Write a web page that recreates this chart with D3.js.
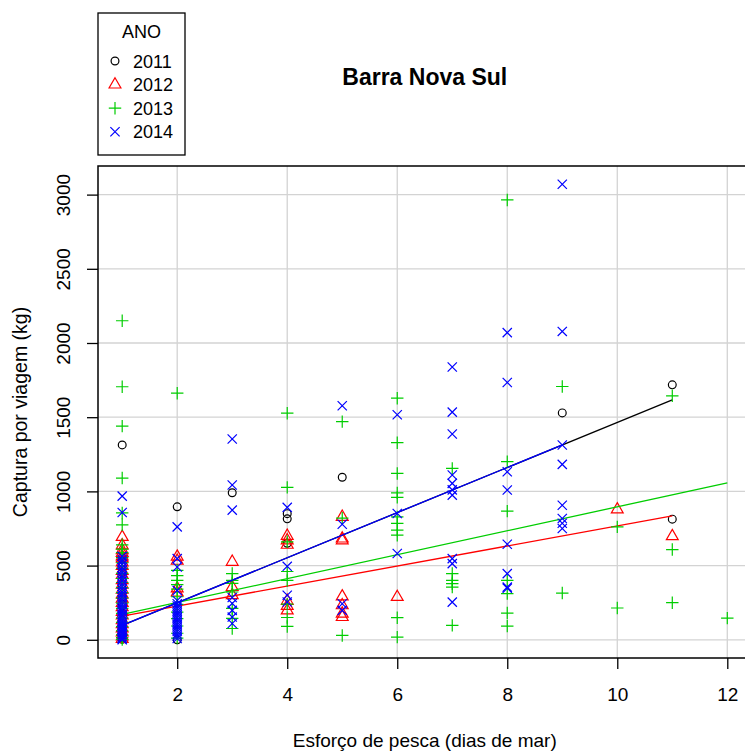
<!DOCTYPE html>
<html>
<head>
<meta charset="utf-8">
<script src="https://cdn.jsdelivr.net/npm/d3@7"></script>
<style>
body { margin: 0; background: #fff; }
svg { display: block; font-family: "Liberation Sans", Arial, Helvetica, sans-serif; }
</style>
</head>
<body>
<div id="chart"></div>
<script>
// pontos por ano: [dias de mar, [captura kg, ...]]
var pontos2011 = [
  [1, [1313, 455, 372, 290, 236, 180, 122, 84, 51, 28, 12, 3]],
  [2, [896, 0]],
  [3, [991]],
  [4, [850, 815, 650]],
  [5, [1095]],
  [9, [1529]],
  [11, [1718, 813]]
];
var pontos2012 = [
  [1, [693, 636, 604, 585, 562, 548, 521, 498, 463, 437, 402, 371, 338, 305, 276, 248, 219, 187, 163, 131, 104, 77, 49, 22, 6]],
  [2, [560, 532, 346, 318]],
  [3, [525, 355, 300]],
  [4, [700, 670, 640, 262, 228, 197]],
  [5, [828, 682, 670, 292, 232, 176, 153]],
  [6, [288]],
  [10, [878]],
  [11, [698]]
];
var pontos2013 = [
  [1, [2150, 1705, 1440, 1090, 855, 775, 640, 611, 587, 553, 519, 482, 447, 413, 386, 352, 318, 281, 247, 212, 178, 146, 117, 88, 61, 34, 14, 2]],
  [2, [1662, 468, 433, 400, 372, 341, 290, 238, 186, 142, 93, 44, 11]],
  [3, [446, 400, 380, 322, 211, 144, 76]],
  [4, [1527, 1027, 660, 460, 400, 240, 150, 90]],
  [5, [1470, 820, 29]],
  [6, [1628, 1328, 1121, 990, 960, 828, 784, 739, 705, 149, 18]],
  [7, [1155, 446, 400, 378, 355, 97]],
  [8, [2964, 1200, 867, 400, 311, 180, 92]],
  [9, [1707, 315]],
  [10, [761, 214]],
  [11, [1644, 608, 250]],
  [12, [146]]
];
var pontos2014 = [
  [1, [968, 858, 562, 541, 527, 509, 486, 468, 452, 431, 415, 397, 376, 359, 342, 321, 304, 287, 268, 251, 236, 219, 203, 188, 171, 158, 142, 127, 113, 99, 86, 72, 61, 48, 37, 25, 14, 6, 0]],
  [2, [761, 547, 490, 333, 265, 243, 228, 212, 196, 181, 167, 149, 134, 118, 102, 87, 71, 56, 39, 24, 9]],
  [3, [1353, 1043, 874, 285, 245, 198, 153, 110]],
  [4, [892, 495, 300, 255]],
  [5, [1577, 779, 243, 198]],
  [6, [1516, 851, 581]],
  [7, [1838, 1534, 1387, 1110, 1054, 1010, 975, 547, 513, 254]],
  [8, [2070, 1734, 1132, 1009, 644, 446, 355, 347]],
  [9, [3070, 2078, 1313, 1182, 907, 817, 785, 750]]
];

// retas ajustadas: [intercepto, declive, x inicial, x final]
var reta2011 = [-55, 152, 1, 11];
var reta2012 = [92, 67.5, 1, 11];
var reta2013 = [90, 80.6, 1, 12];
var reta2014 = [-55, 152, 1, 9];

var anos = ["2011", "2012", "2013", "2014"];
var cores = ["#000000", "#ff0000", "#00cd00", "#0000ff"];
var simbolos = ["circle", "triangle", "plus", "cross"];
var xTicks = [2, 4, 6, 8, 10, 12];
var yTicks = [0, 500, 1000, 1500, 2000, 2500, 3000];

function flat(grupos)
{
  let out = [];
  grupos.forEach(function(g) { g[1].forEach(function(v) { out.push([g[0], v]); }); });
  return out;
}

var series = [pontos2011, pontos2012, pontos2013, pontos2014].map(flat);
var retas = [reta2011, reta2012, reta2013, reta2014];

function add_svg(wrapper)
{
  return d3.select(wrapper).append("svg").attr("width", 745).attr("height", 752);
}

// simbolos tipo R (pch 1, 2, 3, 4)
function simbolo(tipo)
{
  let r = 4.4;
  if (tipo == "triangle") {
    let a = 1.555 * r, b = 1.347 * r, c = 0.778 * r;
    return "M0," + (-a) + "L" + b + "," + c + "L" + (-b) + "," + c + "Z";
  }
  if (tipo == "plus") {
    let p = 1.414 * r;
    return "M" + (-p) + ",0H" + p + "M0," + (-p) + "V" + p;
  }
  let q = 1.05 * r;
  return "M" + (-q) + "," + (-q) + "L" + q + "," + q + "M" + (-q) + "," + q + "L" + q + "," + (-q);
}

function draw_marker(g, tipo, cor, px, py)
{
  if (tipo == "circle")
    g.append("circle").attr("cx", px).attr("cy", py).attr("r", 3.9)
      .attr("fill", "none").attr("stroke", cor).attr("stroke-width", 1.2);
  else
    g.append("path").attr("d", simbolo(tipo)).attr("transform", "translate(" + px + "," + py + ")")
      .attr("fill", "none").attr("stroke", cor).attr("stroke-width", 1.2);
}

function draw_plot(wrapper)
{
  let svg = add_svg(wrapper);
  let left = 98, right = 751.5, top = 166, bottom = 658;

  let all = [].concat.apply([], series);
  let xr = d3.extent(all, function(d) { return d[0]; });
  let yr = d3.extent(all, function(d) { return d[1]; });
  let xp = (xr[1] - xr[0]) * 0.04, yp = (yr[1] - yr[0]) * 0.04;

  let x = d3.scaleLinear().domain([xr[0] - xp, xr[1] + xp]).range([left, right]);
  let y = d3.scaleLinear().domain([yr[0] - yp, yr[1] + yp]).range([bottom, top]);

  // grelha
  let grid = svg.append("g").attr("stroke", "#d3d3d3").attr("stroke-width", 1.3);
  grid.selectAll(".gx").data(xTicks).enter().append("line")
    .attr("x1", function(d) { return x(d); }).attr("x2", function(d) { return x(d); })
    .attr("y1", top).attr("y2", bottom);
  grid.selectAll(".gy").data(yTicks).enter().append("line")
    .attr("y1", function(d) { return y(d); }).attr("y2", function(d) { return y(d); })
    .attr("x1", left).attr("x2", right);

  // pontos e retas por ano
  let plot = svg.append("g");
  series.forEach(function(pts, i) {
    let r = retas[i];
    plot.append("line")
      .attr("x1", x(r[2])).attr("y1", y(r[0] + r[1] * r[2]))
      .attr("x2", x(r[3])).attr("y2", y(r[0] + r[1] * r[3]))
      .attr("stroke", cores[i]).attr("stroke-width", 1.3);
    pts.forEach(function(d) { draw_marker(plot, simbolos[i], cores[i], x(d[0]), y(d[1])); });
  });

  // eixos
  let xAxis = d3.axisBottom(x).tickValues(xTicks).tickSize(11).tickPadding(19).tickFormat(d3.format("d"));
  let gx = svg.append("g").attr("transform", "translate(0," + bottom + ")").call(xAxis);
  gx.select(".domain").remove();
  gx.selectAll("line").attr("stroke-width", 1.3);
  gx.selectAll("text").attr("font-size", 19).attr("fill", "#000").attr("font-family", null);

  let yAxis = d3.axisLeft(y).tickValues(yTicks).tickSize(11).tickFormat(d3.format("d"));
  let gy = svg.append("g").attr("transform", "translate(" + left + ",0)").call(yAxis);
  gy.select(".domain").remove();
  gy.selectAll("line").attr("stroke-width", 1.3);
  gy.selectAll("text").attr("font-size", 19).attr("fill", "#000").attr("font-family", null)
    .attr("x", null).attr("dy", null).attr("text-anchor", "middle")
    .attr("transform", "translate(-28,0) rotate(-90)");

  svg.append("rect").attr("x", left).attr("y", top).attr("width", right - left).attr("height", bottom - top)
    .attr("fill", "none").attr("stroke", "#000").attr("stroke-width", 1.5);

  // titulos
  svg.append("text").attr("x", (left + right) / 2).attr("y", 85).attr("text-anchor", "middle")
    .attr("font-size", 23).attr("font-weight", "bold").text("Barra Nova Sul");
  svg.append("text").attr("x", (left + right) / 2).attr("y", 747).attr("text-anchor", "middle")
    .attr("font-size", 19).text("Esforço de pesca (dias de mar)");
  svg.append("text").attr("transform", "translate(27," + ((top + bottom) / 2) + ") rotate(-90)")
    .attr("text-anchor", "middle").attr("font-size", 19.5).text("Captura por viagem (kg)");

  // legenda
  let leg = svg.append("g");
  leg.append("rect").attr("x", 98).attr("y", 13).attr("width", 87).attr("height", 142)
    .attr("fill", "#fff").attr("stroke", "#000").attr("stroke-width", 1.3);
  leg.append("text").attr("x", 141.5).attr("y", 38).attr("text-anchor", "middle")
    .attr("font-size", 18).text("ANO");
  anos.forEach(function(a, i) {
    let ly = 61 + i * 23.6;
    draw_marker(leg, simbolos[i], cores[i], 115, ly);
    leg.append("text").attr("x", 133).attr("y", ly + 6.5).attr("font-size", 18).text(a);
  });
}

draw_plot("#chart");
</script>
</body>
</html>
